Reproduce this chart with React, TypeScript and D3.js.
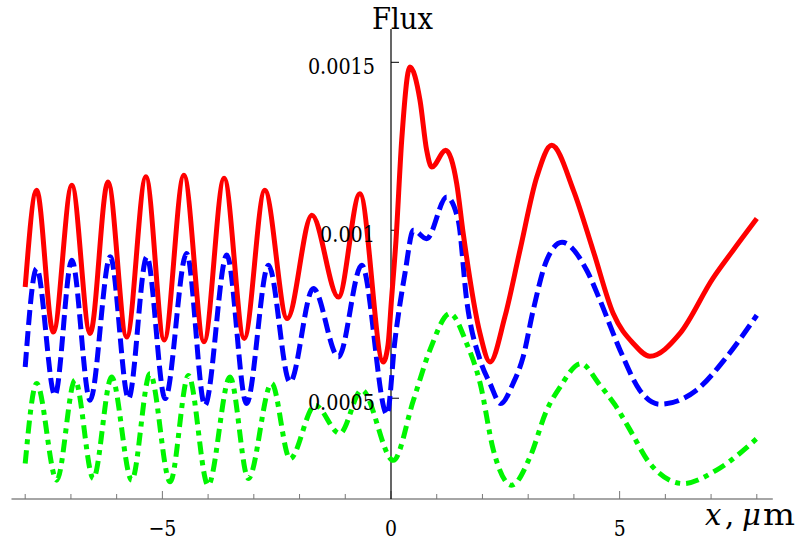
import React from 'react'
import * as d3 from 'd3'

// red (solid)
const redX = [-8, -7.75, -7.385, -6.98, -6.58, -6.19, -5.78, -5.36, -4.96, -4.53, -4.09, -3.65, -3.21, -2.76, -2.27, -1.73, -1.15, -0.68, -0.17, -0.066, 0.01, 0.109, 0.234, 0.415, 0.634, 0.78, 0.89, 1.196, 1.437, 1.58, 1.946, 2.165, 2.49, 2.82, 3.19, 3.514, 3.99, 4.42, 4.86, 5.3, 5.66, 6.32, 7.04, 7.48, 8]
const redY = [0.000831, 0.001119, 0.000697, 0.001134, 0.000693, 0.001144, 0.000682, 0.001159, 0.000673, 0.001164, 0.000668, 0.001155, 0.000678, 0.001119, 0.000737, 0.001045, 0.000801, 0.001109, 0.000608, 0.000658, 0.000792, 0.00097, 0.001268, 0.001486, 0.001387, 0.001238, 0.001188, 0.001238, 0.001139, 0.00099, 0.000693, 0.000608, 0.000742, 0.00094, 0.001159, 0.001253, 0.001119, 0.00094, 0.000752, 0.000663, 0.000625, 0.000693, 0.000857, 0.00094, 0.001035]

// blue (dashed)
const blueX = [-8, -7.75, -7.35, -6.98, -6.58, -6.14, -5.74, -5.34, -4.94, -4.47, -4.07, -3.59, -3.16, -2.68, -2.21, -1.7, -1.15, -0.64, -0.087, 0.087, 0.306, 0.49, 0.78, 1.218, 1.47, 1.655, 1.95, 2.165, 2.4, 2.67, 2.89, 3.11, 3.405, 3.74, 4.28, 4.57, 5.01, 5.44, 5.88, 6.68, 7.34, 8]
const blueY = [0.000593, 0.000886, 0.000509, 0.000911, 0.000494, 0.000921, 0.000499, 0.000921, 0.000499, 0.000931, 0.000479, 0.000926, 0.000484, 0.000896, 0.000548, 0.000827, 0.000623, 0.000896, 0.000452, 0.000673, 0.000872, 0.001, 0.000975, 0.001099, 0.00103, 0.000792, 0.000613, 0.000544, 0.000484, 0.000544, 0.000623, 0.000762, 0.000911, 0.000964, 0.000881, 0.000792, 0.000643, 0.000524, 0.000482, 0.000524, 0.000623, 0.000747]

// green (dot-dashed)
const greenX = [-8, -7.75, -7.31, -6.91, -6.51, -6.11, -5.67, -5.27, -4.83, -4.43, -4, -3.52, -3.12, -2.61, -2.21, -1.66, -1.12, -0.64, 0.05, 0.49, 0.85, 1.29, 1.655, 1.95, 2.24, 2.64, 3.04, 3.405, 3.7, 4.15, 4.57, 4.9, 5.23, 5.66, 6.39, 7.12, 8]
const greenY = [0.000306, 0.000544, 0.000256, 0.000554, 0.000261, 0.000563, 0.000256, 0.000573, 0.000251, 0.000568, 0.000241, 0.000563, 0.000261, 0.000544, 0.00032, 0.000479, 0.000395, 0.000524, 0.000315, 0.000494, 0.000643, 0.000752, 0.000663, 0.000544, 0.000345, 0.000241, 0.000325, 0.000464, 0.000534, 0.000603, 0.000539, 0.00048, 0.000405, 0.000306, 0.000246, 0.000286, 0.00038]

const xMajor = [-5, 0, 5]
const xMajorLabels = ['\u22125', '0', '5']
const xMinor = [-8, -7, -6, -4, -3, -2, -1, 1, 2, 3, 4, 6, 7, 8]
const yTicks = [0.0005, 0.001, 0.0015]
const yTickLabels = ['0.0005', '0.001', '0.0015']

const serif = 'DejaVu Serif, serif'
// squeeze DejaVu Serif to roughly Times widths
const textW = (s: string, size: number) => s.length * size * 0.5 - (s.split('.').length - 1) * size * 0.25

export default function App() {
  const x = d3.scaleLinear().domain([-8, 8]).range([25.2, 756.8])
  const y = d3.scaleLinear().domain([0.0002, 0.0015]).range([499, 62.3])

  const line = d3.line<[number, number]>()
    .x(d => x(d[0]))
    .y(d => y(d[1]))
    .curve(d3.curveMonotoneX)

  const zip = (xs: number[], ys: number[]) => xs.map((v, i) => [v, ys[i]] as [number, number])

  const series = [
    { pts: zip(greenX, greenY), color: '#00f500', dash: '13,6,5,6' },
    { pts: zip(blueX, blueY), color: '#0000ff', dash: '15,6' },
    { pts: zip(redX, redY), color: '#ff0000', dash: null },
  ]

  const y0 = y(0.0002)
  const x0 = x(0)

  return (
    <div style={{ position: 'absolute', left: 0, top: 0 }}>
      <svg width={797} height={544} style={{ display: 'block', background: '#fff' }}>
        {/* x axis */}
        <line x1={x(-8.3)} x2={x(8.35)} y1={y0} y2={y0} stroke="#888" strokeWidth={1.6} />
        {xMinor.map(t => (
          <line key={'mi' + t} x1={x(t)} x2={x(t)} y1={y0} y2={y0 - 5} stroke="#777" strokeWidth={1} />
        ))}
        {xMajor.map(t => (
          <line key={'ma' + t} x1={x(t)} x2={x(t)} y1={y0} y2={y0 - 8} stroke="#777" strokeWidth={1} />
        ))}
        {/* y axis */}
        <line x1={x0} x2={x0} y1={29} y2={y0} stroke="#000" strokeWidth={1.2} />
        {yTicks.map(t => (
          <line key={'yt' + t} x1={x0} x2={x0 + 8} y1={y(t)} y2={y(t)} stroke="#000" strokeWidth={1} />
        ))}

        {series.map((s, i) => (
          <path key={i} d={line(s.pts) || ''} fill="none" stroke={s.color} strokeWidth={5}
            strokeDasharray={s.dash || undefined} strokeLinejoin="round" />
        ))}

        {/* tick labels */}
        {xMajor.map((t, i) => (
          <text key={'xl' + t} x={x(t)} y={536} textAnchor="middle" fontFamily={serif} fontSize={23}
            textLength={xMajorLabels[i].length > 1 ? 28 : 12} lengthAdjust="spacingAndGlyphs">
            {xMajorLabels[i]}
          </text>
        ))}
        {yTicks.map((t, i) => (
          <text key={'yl' + t} x={375} y={y(t) + 11.5} textAnchor="end" fontFamily={serif} fontSize={23}
            textLength={textW(yTickLabels[i], 24.4)} lengthAdjust="spacingAndGlyphs">
            {yTickLabels[i]}
          </text>
        ))}

        {/* axis labels */}
        <text x={372} y={29} fontFamily={serif} fontSize={29} textLength={61} lengthAdjust="spacingAndGlyphs">Flux</text>
        <text y={525} fontFamily={serif} fontSize={29}>
          <tspan x={705} fontStyle="italic">x</tspan>
          <tspan x={725}>,</tspan>
          <tspan x={742} fontStyle="italic">μ</tspan>
          <tspan x={763} textLength={32} lengthAdjust="spacingAndGlyphs">m</tspan>
        </text>
      </svg>
    </div>
  )
}
